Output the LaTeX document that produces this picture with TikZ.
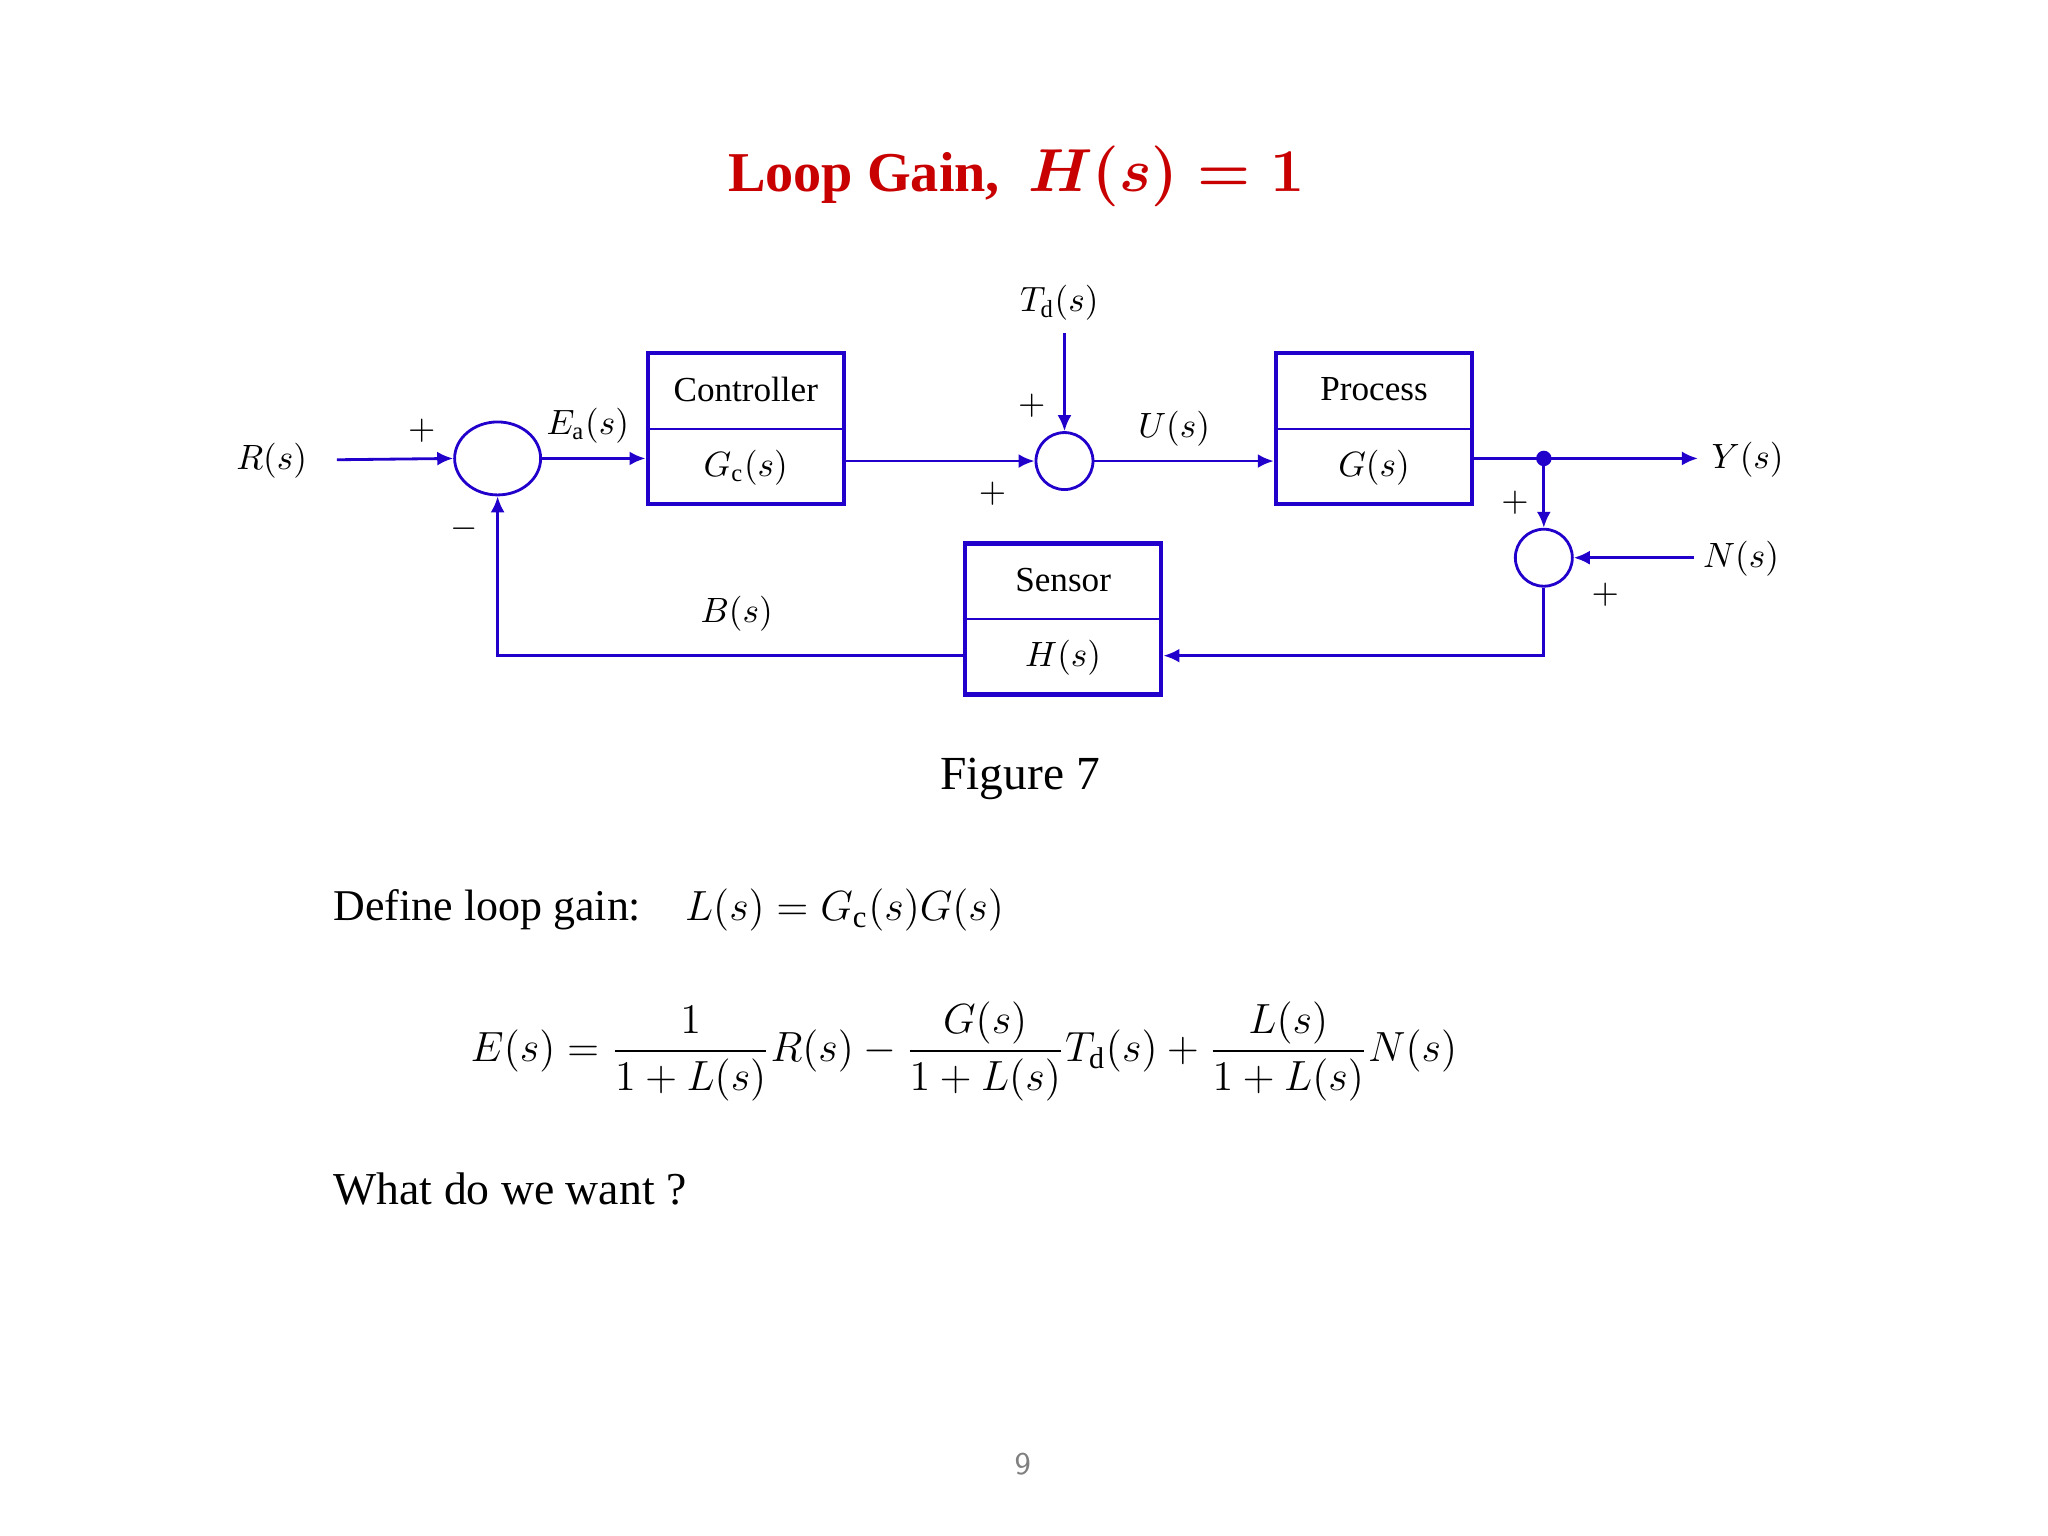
\documentclass[tikz,border=0pt]{standalone}
\usepackage{amsmath}
\usepackage{fontspec}
\setmainfont{Liberation Serif}
\usetikzlibrary{arrows.meta,shapes.geometric,calc}
\definecolor{sigblue}{RGB}{34,0,204}
\definecolor{titlered}{RGB}{200,0,0}
\tikzstyle{block} = [rectangle, draw=sigblue, line width=1.3pt, minimum width=1.96cm, minimum height=1.51cm]
\tikzstyle{sum} = [circle, draw=sigblue, line width=0.8pt, minimum size=0.57cm, inner sep=0pt]
\tikzstyle{lbl} = [font=\fontsize{10}{12}\selectfont]
\tikzset{edge/.style = {
    draw=sigblue, line width=0.8pt,
    -{Latex[length=1.6mm,width=1.4mm]},
  }
}
\newcommand{\blocktext}[3]{%
  \draw[sigblue, line width=0.6pt] (#1.west |- #1.center) ++(0,0.21) coordinate (#1d) -- (#1.east |- #1d);
  \node[lbl, anchor=center] at ($(#1.north)!0.25!(#1.south)$) {#2};
  \node[lbl, anchor=center] at ($(#1.north)!0.75!(#1.south)$) {#3};
}
\begin{document}
\begin{tikzpicture}[x=0.01306cm, y=-0.01306cm]
  \useasboundingbox (0,0) rectangle (1568,1176);
  % title
  \node[text=titlered, font=\fontsize{16}{19}\selectfont\bfseries] (title) at (778,135) {Loop Gain,\ \ $\boldsymbol{H(s)=1}$};

  % blocks
  \node[ellipse, draw=sigblue, line width=0.8pt, minimum width=0.86cm, minimum height=0.73cm, inner sep=0pt] (s1) at (381,351) {};
  \node[block] (ctrl) at (571,328) {};
  \node[sum] (s2) at (815,353) {};
  \node[block] (proc) at (1052,328) {};
  \node[sum] (s3) at (1182,427) {};
  \node[block] (sens) at (814,474) {};
  \blocktext{ctrl}{Controller}{$G_{\mathrm{c}}(s)$}
  \blocktext{proc}{Process}{$G(s)$}
  \blocktext{sens}{Sensor}{$H(s)$}

  % signals
  \node[lbl] (r) at (208,353) {$R(s)$};
  \node[lbl] (td) at (811,232) {$T_{\mathrm{d}}(s)$};
  \node[lbl] (y) at (1338,352) {$Y(s)$};
  \node[lbl] (n) at (1333,428) {$N(s)$};
  \coordinate (rin) at (258,352);
  \coordinate (tdin) at (815,255);
  \coordinate (yout) at (1300,351);
  \coordinate (nin) at (1297,427);
  \coordinate (dot) at (1182,351);
  \coordinate (fbr) at (1182,502);
  \coordinate (fbl) at (381,502);
  \fill[sigblue] (dot) circle (2.2pt);

  % edges
  \draw[edge] (rin) -- (s1.west);
  \draw[edge] (s1.east) -- (s1.east -| ctrl.west);
  \draw[edge] (ctrl.east |- s2) -- (s2.west);
  \draw[edge] (tdin) -- (s2.north);
  \draw[edge] (s2.east) -- (s2.east -| proc.west);
  \draw[sigblue, line width=0.8pt] (proc.east |- dot) -- (dot);
  \draw[edge] (dot) -- (yout);
  \draw[edge] (dot) -- (s3.north);
  \draw[edge] (nin) -- (s3.east);
  \draw[edge] (s3.south) -- (fbr) -- (sens.east |- fbr);
  \draw[edge] (sens.west |- fbl) -- (fbl) -- (s1.south);

  % signs and labels
  \node[lbl] (p1) at (323,330) {$+$};
  \node[lbl] (m1) at (355,405) {$-$};
  \node[lbl] (ea) at (450,326) {$E_{\mathrm{a}}(s)$};
  \node[lbl] (p2) at (790,311) {$+$};
  \node[lbl] (p3) at (760,378) {$+$};
  \node[lbl] (u) at (899,328) {$U(s)$};
  \node[lbl] (b) at (564,470) {$B(s)$};
  \node[lbl] (p4) at (1160,385) {$+$};
  \node[lbl] (p5) at (1229,455) {$+$};

  % text
  \node[font=\fontsize{13.5}{16}\selectfont] (fig) at (781,596) {Figure 7};
  \node[font=\fontsize{12.5}{15}\selectfont, anchor=west] (def) at (246,697) {Define loop gain:\quad $L(s)=G_{\mathrm{c}}(s)G(s)$};
  \node[font=\fontsize{12.2}{15}\selectfont] (eq) at (738,805) {$\displaystyle E(s)=\frac{1}{1+L(s)}R(s)-\frac{G(s)}{1+L(s)}T_{\mathrm{d}}(s)+\frac{L(s)}{1+L(s)}N(s)$};
  \node[font=\fontsize{13}{16}\selectfont, anchor=west] (want) at (246,910) {What do we want ?};
  \node[text=gray, font=\fontsize{9}{10}\selectfont\sffamily] (pg) at (783,1121) {9};
\end{tikzpicture}
\end{document}
